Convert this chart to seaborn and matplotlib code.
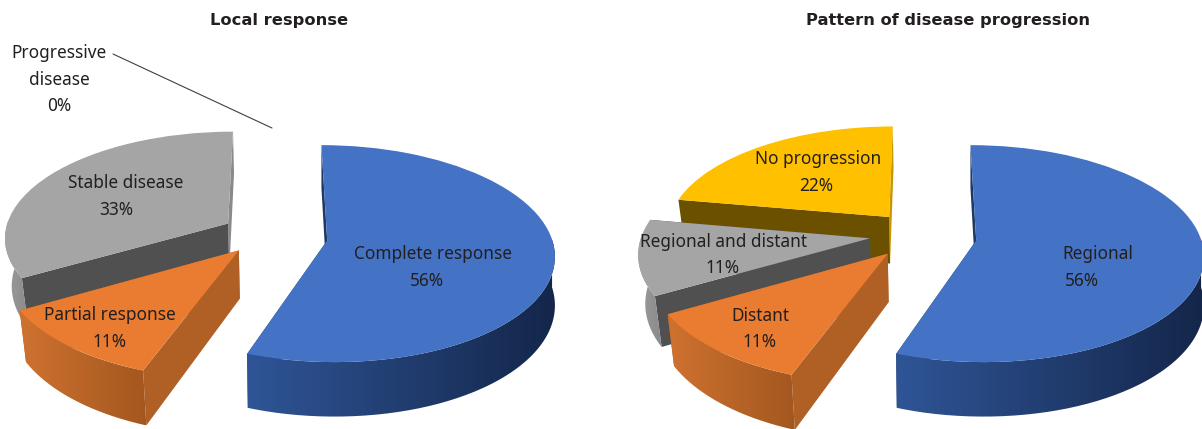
import numpy as np
import seaborn as sns
import matplotlib
matplotlib.use("Agg")
import matplotlib.pyplot as plt
from matplotlib.lines import Line2D
from matplotlib.patches import PathPatch, Polygon
from matplotlib.path import Path
from matplotlib.transforms import Transform

W, H = 1202, 429

local_labels = ["Complete response", "Partial response", "Stable disease", "Progressive disease"]
local_values = [5, 1, 3, 0]
local_pcts = ["56%", "11%", "33%", "0%"]

prog_labels = ["Regional", "Distant", "Regional and distant", "No progression"]
prog_values = [5, 1, 1, 2]
prog_pcts = ["56%", "11%", "11%", "22%"]

local_colors = ["#4472c4", "#e97c30", "#a5a5a5"]
prog_colors = ["#4472c4", "#e97c30", "#a5a5a5", "#ffc000"]
local_radii = [1, 1.03, 1, 1]
prog_radii = [1, 1.03, 1.02, 1]
local_lift = [0, 0.05, 0, 0]
prog_lift = [0, 0.02, 0.02, 0]
rim_left = {"#4472c4": "#2f5597", "#e97c30": "#cf7230", "#a5a5a5": "#9c9c9c", "#ffc000": "#d9a400"}
rim_right = {"#4472c4": "#14264a", "#e97c30": "#a3571f", "#a5a5a5": "#8a8a8a", "#ffc000": "#c79500"}
cut_color = {"#4472c4": "#1f3864", "#e97c30": "#b06025", "#a5a5a5": "#505050", "#ffc000": "#6b5000"}

RX, RY = 224, 105.8
TILT = 0.121
DEPTH = 0.45
SHRINK = 0.975
EXPLODE = 0.24


def warp(x, y, z=0.0):
    w = 1 + TILT * y
    # the lower face pulls in a little on the left side only
    k = np.where(np.asarray(x) < 0, SHRINK, 1.0) if z else 1.0
    return k * x / w, (y - z) / w


class Tilt(Transform):
    input_dims = output_dims = 2

    def transform_non_affine(self, values):
        x, y = warp(values[:, 0], values[:, 1])
        return np.column_stack([x, y])


def extruded_pie(ax, values, colors, radii, lifts):
    explode = [EXPLODE] * len(values)
    palette = colors + ["#ffffff"] * (len(values) - len(colors))
    wedges, _ = ax.pie(values, colors=palette, explode=explode, startangle=90,
                       counterclock=False, radius=1)
    xlim, ylim = ax.get_xlim(), ax.get_ylim()
    for wedge, val, col, r, lift in zip(wedges, values, palette, radii, lifts):
        if val == 0:
            wedge.set_visible(False)
            continue
        wedge.set_radius(r)
        cx, cy = wedge.center
        cy += lift
        wedge.set_center((cx, cy))
        t1, t2 = wedge.theta1, wedge.theta2
        base = 10 - 3 * np.sin(np.radians((t1 + t2) / 2))

        # the two straight cut faces
        for ang in (t1, t2):
            ex = cx + r * np.cos(np.radians(ang))
            ey = cy + r * np.sin(np.radians(ang))
            xs, ys = zip(warp(cx, cy), warp(ex, ey), warp(ex, ey, DEPTH), warp(cx, cy, DEPTH))
            face = rim_right[col] if np.sin(np.radians(ang)) > 0.98 else cut_color[col]
            if col == "#4472c4":
                face = cut_color[col]
            ax.add_patch(Polygon(np.column_stack([xs, ys]), closed=True, fc=face, ec="none", zorder=base))

        # outer rim, front half only, with a left to right shade
        th = np.radians(np.linspace(t1, t2, 240))
        th = th[np.sin(th) < 0.02]
        if len(th) > 1:
            ax_, ay_ = cx + r * np.cos(th), cy + r * np.sin(th)
            tx, ty = warp(ax_, ay_)
            bx, by = warp(ax_, ay_, DEPTH)
            verts = np.column_stack([np.r_[tx, bx[::-1]], np.r_[ty, by[::-1]]])
            clip = PathPatch(Path(np.r_[verts, verts[:1]]), fc="none", ec="none", transform=ax.transData)
            ax.add_patch(clip)
            cmap = sns.blend_palette([rim_left[col], rim_right[col]], as_cmap=True)
            im = ax.imshow(np.linspace(0, 1, 256)[None, :], cmap=cmap, aspect="auto",
                           extent=(verts[:, 0].min(), verts[:, 0].max(), verts[:, 1].min(), verts[:, 1].max()),
                           zorder=base + 0.1)
            im.set_clip_path(clip)

        wedge.set_transform(Tilt() + ax.transData)
        wedge.set_zorder(base + 0.2)
        wedge.set_edgecolor("none")
    ax.set_xlim(xlim)
    ax.set_ylim(ylim)


def place(ax, px0, px1, cx, cy):
    ax.set_position([px0 / W, 0, (px1 - px0) / W, 1])
    ax.set_aspect("auto")
    ax.set_xlim((px0 - cx) / RX, (px1 - cx) / RX)
    ax.set_ylim((cy - H) / RY, cy / RY)


def label(x, y, text, **kw):
    opts = dict(family="Noto Sans", fontsize=FS)
    opts.update(kw)
    fig.text(x / W, 1 - y / H, text, ha="center", va="center", color="#231f20", zorder=5, **opts)


sns.set_theme(style="white")
FS = 12.4

fig = plt.figure(figsize=(W / 100, H / 100), dpi=100)
ax1 = fig.add_axes([0, 0, 0.5, 1])
ax2 = fig.add_axes([0.5, 0, 0.5, 1])

extruded_pie(ax1, local_values, local_colors, local_radii, local_lift)
place(ax1, 0, 601, 274, 236)
extruded_pie(ax2, prog_values, prog_colors, prog_radii, prog_lift)
place(ax2, 601, 1202, 923, 236)

label(433, 254, local_labels[0])
label(427, 281, local_pcts[0])
label(110, 315, local_labels[1])
label(110, 342, local_pcts[1])
label(126, 183, local_labels[2])
label(116, 210, local_pcts[2])
label(59, 53, "Progressive")
label(59, 80, "disease")
label(59, 106, local_pcts[3])
fig.add_artist(Line2D([113 / W, 272 / W], [1 - 54 / H, 1 - 128 / H], color="#404040", lw=0.8))

label(1098, 254, prog_labels[0])
label(1082, 281, prog_pcts[0])
label(760, 316, prog_labels[1])
label(760, 342, prog_pcts[1])
label(724, 242, prog_labels[2])
label(723, 268, prog_pcts[2])
label(818, 159, prog_labels[3])
label(816, 186, prog_pcts[3])

label(279, 21, "Local response", family="DejaVu Sans", fontsize=11.7, fontweight="bold")
label(948, 21, "Pattern of disease progression", family="DejaVu Sans", fontsize=11.7, fontweight="bold")

fig.savefig("out.png", dpi=100, facecolor="white")
